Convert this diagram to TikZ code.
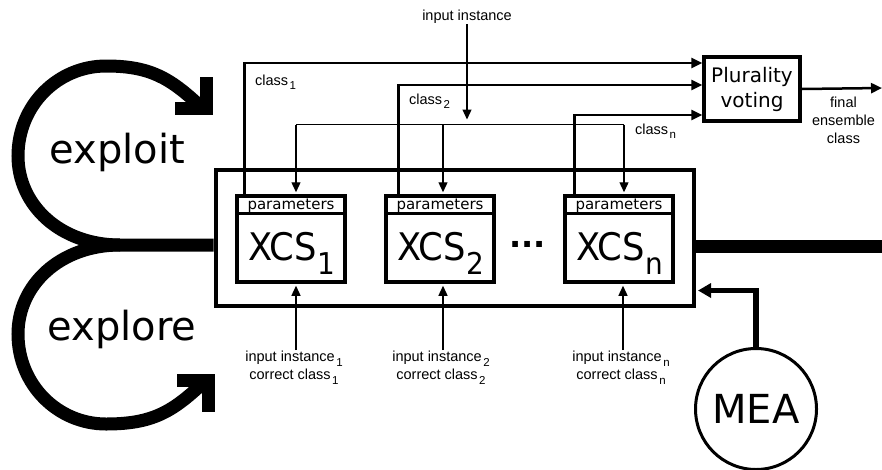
\documentclass[tikz,border=0pt]{standalone}
\usepackage{fontspec}
\setmainfont{DejaVu Sans}
\newfontfamily\nf{Liberation Sans}
\newfontfamily\xcsfont[FakeStretch=0.93]{DejaVu Sans}
\usetikzlibrary{arrows.meta}
\newcommand{\nsub}[1]{\kern1.5pt\raisebox{-4.5pt}{\fontsize{11.5}{11.5}\selectfont #1}}
\newcommand{\xcslabel}[1]{{\xcsfont\fontsize{38}{38}\selectfont XCS\raisebox{-14pt}{\fontsize{30}{30}\selectfont #1}}}
\begin{document}
\begin{tikzpicture}[x=1pt,y=-1pt,
  loopline/.style={line width=13pt},
  arrowhead/.style={line width=13pt, miter limit=10},
  bigbox/.style={draw, line width=4pt, inner sep=0pt},
  xcsbox/.style={draw, line width=3.5pt, minimum width=108pt, minimum height=86pt, inner sep=0pt},
  headline/.style={line width=3.5pt},
  thinline/.style={line width=1.3pt},
  thinarrow/.style={line width=1.3pt, -{Triangle[length=10pt,width=9pt]}, shorten >=2pt},
  clsarrow/.style={line width=2.5pt, -{Triangle[length=11pt,width=10pt]}},
  meaarrow/.style={line width=5.5pt, -{Triangle[length=13pt,width=14pt]}, shorten >=2pt},
  small/.style={font=\nf\fontsize{14.5}{18}\selectfont, inner sep=1pt},
  paramtext/.style={font=\fontsize{15}{15}\selectfont, inner sep=0pt},
  bigtext/.style={font=\fontsize{40}{40}\selectfont, inner sep=0pt}
]
\useasboundingbox (0,0) rectangle (882,469);

% main ensemble box
\node[bigbox, minimum width=478.5pt, minimum height=135.5pt] (big) at (454.75,237.75) {};

% XCS boxes
\node[xcsbox] (x1) at (291,239) {};
\node[xcsbox] (x2) at (440,239) {};
\node[xcsbox] (xn) at (619,239) {};
\foreach \b in {x1,x2,xn}{
  \draw[headline] ([yshift=-19pt]\b.north west) -- ([yshift=-19pt]\b.north east);
}
\node[paramtext] (p1) at (291,205.5) {parameters};
\node[paramtext] (p2) at (440,205.5) {parameters};
\node[paramtext] (pn) at (619,205.5) {parameters};
\node[anchor=base, inner sep=0pt] (t1) at (291.5,260) {\xcslabel{1}};
\node[anchor=base, inner sep=0pt] (t2) at (440.5,260) {\xcslabel{2}};
\node[anchor=base, inner sep=0pt] (tn) at (619.5,260) {\xcslabel{n}};
\node[anchor=base, inner sep=0pt] (dots) at (527.5,247) {\fontsize{32}{32}\selectfont\bfseries ...};

% plurality voting
\node[draw, line width=3.5pt, minimum width=96pt, minimum height=64pt, inner sep=0pt, align=center,
      font=\fontsize{20}{25}\selectfont] (pv) at (752,89) {Plurality\\voting};

% input instance distribution
\node[small, anchor=base] (ii) at (467,20) {input instance};
\coordinate (split) at (467,124.5);
\coordinate (dl) at ([xshift=5pt]x1.north |- split);
\coordinate (dr) at ([xshift=5pt]xn.north |- split);
\draw[thinarrow, shorten >=5pt] (ii.south) -- (split);
\draw[thinline] (dl) -- (dr);
\draw[thinarrow] (dl) -- ([xshift=5pt]x1.north);
\draw[thinarrow] ([xshift=3pt]x2.north |- split) -- ([xshift=3pt]x2.north);
\draw[thinarrow] (dr) -- ([xshift=5pt]xn.north);

% class outputs to voting
\draw[clsarrow] ([xshift=9pt]x1.north west) |- ([yshift=26pt]pv.west);
\draw[clsarrow] ([xshift=14pt]x2.north west) |- ([yshift=4pt]pv.west);
\draw[clsarrow] ([xshift=11pt]xn.north west) |- ([yshift=-26pt]pv.west);
\node[small, anchor=base west] (c1) at (254,85) {class\nsub{1}};
\node[small, anchor=base west] (c2) at (408,104) {class\nsub{2}};
\node[small, anchor=base west] (cn) at (634,134) {class\nsub{n}};

% final output
\coordinate (out) at (882,88);
\draw[clsarrow] (pv.east) -- (out);
\node[small, align=center, anchor=north] (fin) at (843.5,96) {final\\ensemble\\class};

% bottom inputs
\node[small, align=center, anchor=north] (l1) at (294,350) {input instance\nsub{1}\\correct class\nsub{1}};
\node[small, align=center, anchor=north] (l2) at (441,350) {input instance\nsub{2}\\correct class\nsub{2}};
\node[small, align=center, anchor=north] (ln) at (621,350) {input instance\nsub{n}\\correct class\nsub{n}};
\draw[thinarrow] ([xshift=5pt]x1.south |- l1.north) -- ([xshift=5pt]x1.south);
\draw[thinarrow] ([xshift=3pt]x2.south |- l2.north) -- ([xshift=3pt]x2.south);
\draw[thinarrow] ([xshift=4pt]xn.south |- ln.north) -- ([xshift=4pt]xn.south);

% MEA
\node[draw, circle, line width=3pt, minimum size=121pt, inner sep=0pt, bigtext] (mea) at (756,409) {MEA};
\draw[meaarrow] (mea.north) |- (big.east |- 0,290.5);

% exploit / explore loops and main line
\coordinate (j) at (120,245);
\coordinate (rend) at (882,246);
\draw[loopline] (big.west |- j) -- (j)
  .. controls (60,245) and (18,205) .. (18,156)
  .. controls (18,105) and (58,66) .. (106,66)
  .. controls (150,66) and (170,78) .. (200,106);
\draw[loopline] (j)
  .. controls (60,245) and (18,285) .. (18,334)
  .. controls (18,385) and (58,424) .. (106,424)
  .. controls (152,424) and (172,412) .. (202,384);
\draw[arrowhead] (175,108.5) -- (206.5,108.5) -- (206.5,77);
\draw[arrowhead] (177,380.5) -- (208.5,380.5) -- (208.5,412);
\draw[loopline] (big.east |- rend) -- (rend);

\node[bigtext, anchor=base] (exploit) at (117.5,163) {exploit};
\node[bigtext, anchor=base] (explore) at (122,340) {explore};
\end{tikzpicture}
\end{document}
